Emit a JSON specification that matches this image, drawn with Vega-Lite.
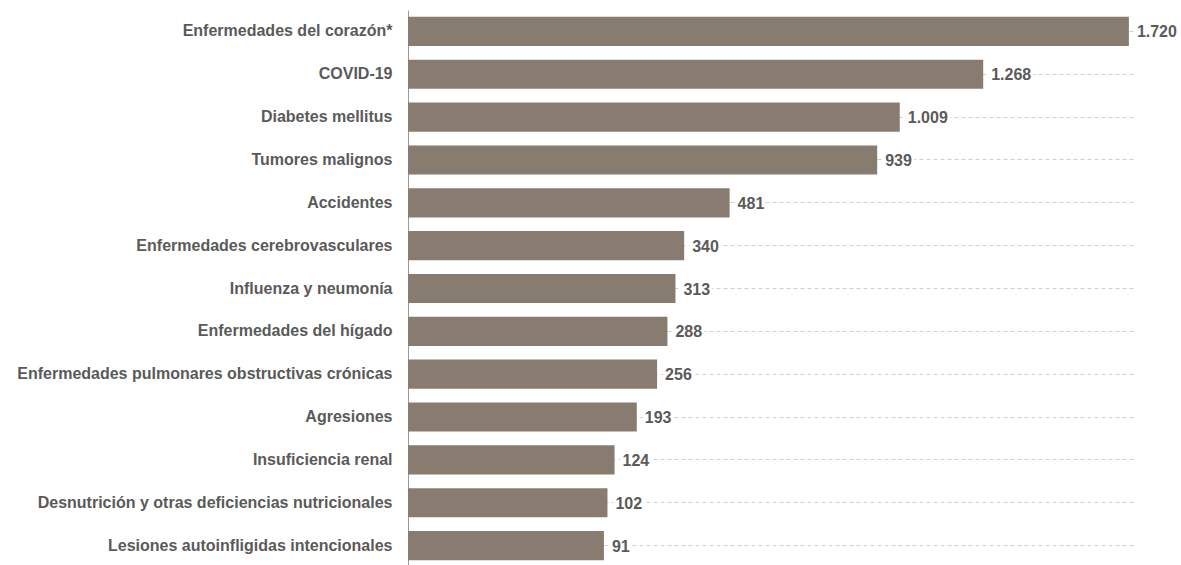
{
  "$schema": "https://vega.github.io/schema/vega-lite/v6.json",
  "autosize": {"type": "none"},
  "padding": {"left": 408, "top": 10, "right": 46, "bottom": 0},
  "width": 727,
  "height": 557,
  "config": {
    "view": {"stroke": null},
    "locale": {"number": {"decimal": ",", "thousands": ".", "grouping": [3], "currency": ["", ""]}},
    "font": "Liberation Sans"
  },
  "data": {
    "values": [
      {"causa": "Enfermedades del corazón*", "muertes": 1720},
      {"causa": "COVID-19", "muertes": 1268},
      {"causa": "Diabetes mellitus", "muertes": 1009},
      {"causa": "Tumores malignos", "muertes": 939},
      {"causa": "Accidentes", "muertes": 481},
      {"causa": "Enfermedades cerebrovasculares", "muertes": 340},
      {"causa": "Influenza y neumonía", "muertes": 313},
      {"causa": "Enfermedades del hígado", "muertes": 288},
      {"causa": "Enfermedades pulmonares obstructivas crónicas", "muertes": 256},
      {"causa": "Agresiones", "muertes": 193},
      {"causa": "Insuficiencia renal", "muertes": 124},
      {"causa": "Desnutrición y otras deficiencias nutricionales", "muertes": 102},
      {"causa": "Lesiones autoinfligidas intencionales", "muertes": 91}
    ]
  },
  "encoding": {
    "y": {
      "field": "causa",
      "type": "nominal",
      "sort": {"field": "muertes", "order": "descending"},
      "scale": {"paddingInner": 0.32, "paddingOuter": 0.16},
      "axis": {
        "title": null,
        "ticks": false,
        "tickSize": 0,
        "labelPadding": 16,
        "labelFont": "Liberation Sans",
        "labelFontWeight": "bold",
        "labelFontSize": 16,
        "labelColor": "#5a5a5a",
        "labelLimit": 420,
        "domainColor": "#9a9a9a",
        "domainWidth": 1,
        "grid": true,
        "bandPosition": 0.5,
        "gridColor": "#cfcfcf",
        "gridDash": [4, 3],
        "gridWidth": 1
      }
    },
    "x": {
      "field": "muertes",
      "type": "quantitative",
      "scale": {"domain": [-517, 1739], "nice": false, "zero": false},
      "axis": null
    }
  },
  "layer": [
    {
      "mark": {"type": "bar", "color": "#887c70"},
      "encoding": {"x2": {"datum": -517}}
    },
    {
      "mark": {"type": "text", "align": "left", "baseline": "middle", "dx": 8, "dy": 1, "fontSize": 16, "fontWeight": "bold", "font": "Liberation Sans", "stroke": "#ffffff", "strokeWidth": 6, "fill": "#ffffff"},
      "encoding": {"text": {"field": "muertes", "type": "quantitative", "format": ",d"}}
    },
    {
      "mark": {"type": "text", "align": "left", "baseline": "middle", "dx": 8, "dy": 1, "fontSize": 16, "fontWeight": "bold", "font": "Liberation Sans", "color": "#5a5a5a"},
      "encoding": {"text": {"field": "muertes", "type": "quantitative", "format": ",d"}}
    }
  ]
}
